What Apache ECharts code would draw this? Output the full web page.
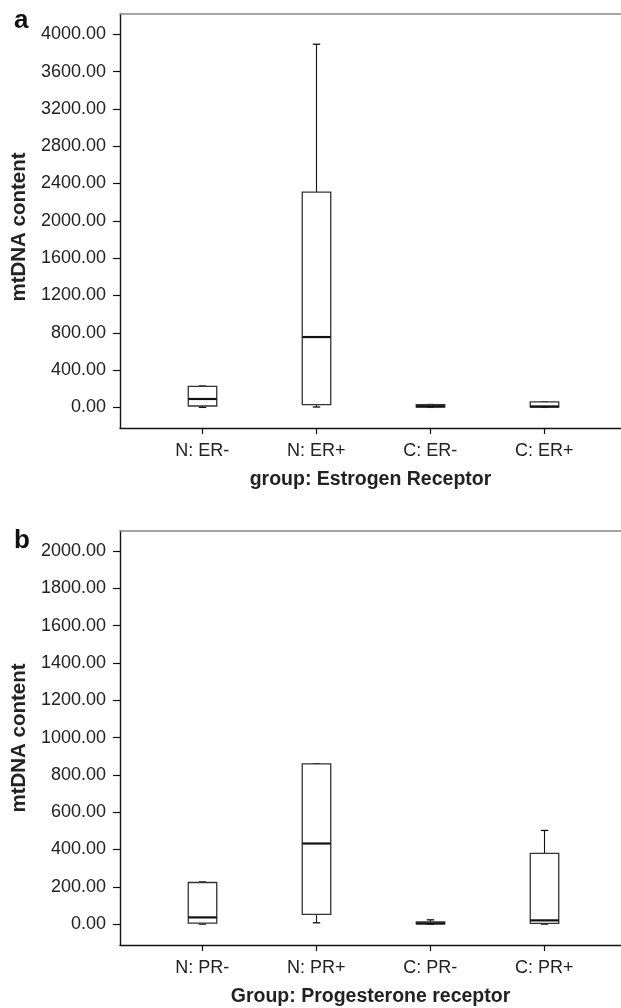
<!DOCTYPE html>
<html><head><meta charset="utf-8">
<script src="https://cdn.jsdelivr.net/npm/echarts@6/dist/echarts.min.js"></script>
<style>html,body{margin:0;padding:0;background:#fff}#c{width:621px;height:1008px}</style>
</head><body><div id="c"></div>
<script>
// Panel a: Estrogen receptor groups
const erCategories = ['N: ER-', 'N: ER+', 'C: ER-', 'C: ER+'];
// each row: [min, Q1, median, Q3, max]
const erBoxes = [
  [0, 15, 90, 225, 229],
  [4, 29, 754, 2307, 3893],
  [0, 3, 12, 28, 31],
  [0, 4, 10, 58, 58]
];
const erTicks = [0, 400, 800, 1200, 1600, 2000, 2400, 2800, 3200, 3600, 4000];

// Panel b: Progesterone receptor groups
const prCategories = ['N: PR-', 'N: PR+', 'C: PR-', 'C: PR+'];
const prBoxes = [
  [0, 5, 36, 223, 226],
  [7, 52, 432, 859, 860],
  [0, 1, 4, 12, 23],
  [0, 4, 20, 379, 502]
];
const prTicks = [0, 200, 400, 600, 800, 1000, 1200, 1400, 1600, 1800, 2000];

const FONT = "'Liberation Sans', Arial, Helvetica, sans-serif";
const XMIN = 0.278, XMAX = 4.673;

function renderBox(params, api) {
  const x = api.value(0);
  const lo = api.coord([x, api.value(1)]);
  const q1 = api.coord([x, api.value(2)]);
  const med = api.coord([x, api.value(3)]);
  const q3 = api.coord([x, api.value(4)]);
  const hi = api.coord([x, api.value(5)]);
  const unit = api.size([1, 0])[0];
  const bw = unit * 0.25, cw = unit * 0.065;
  const cx = Math.round(lo[0]) + 0.5;
  const line = (x1, y1, x2, y2, w) => ({type: 'line', shape: {x1, y1, x2, y2}, style: {stroke: '#111', lineWidth: w}});
  return {type: 'group', children: [
    line(cx, hi[1], cx, q3[1], 1.1),
    line(cx, lo[1], cx, q1[1], 1.1),
    line(cx - cw / 2, hi[1], cx + cw / 2, hi[1], 1.3),
    line(cx - cw / 2, lo[1], cx + cw / 2, lo[1], 1.3),
    {type: 'rect', shape: {x: cx - bw / 2, y: q3[1], width: bw, height: q1[1] - q3[1]},
     style: {fill: '#fff', stroke: '#333', lineWidth: 1.3}},
    line(cx - bw / 2, med[1], cx + bw / 2, med[1], 2.2)
  ]};
}

function xAxisFor(idx, cats, name) {
  return {
    type: 'value', gridIndex: idx, min: XMIN, max: XMAX, position: 'bottom',
    splitLine: {show: false},
    axisLine: {show: true, onZero: false, lineStyle: {color: '#111', width: 1.4}},
    axisTick: {show: true, customValues: [1, 2, 3, 4], length: 6, lineStyle: {color: '#111', width: 1.2}},
    axisLabel: {customValues: [1, 2, 3, 4], formatter: v => cats[Math.round(v) - 1],
      color: '#222', fontSize: 18, fontFamily: FONT, margin: 14},
    name: name, nameLocation: 'middle', nameGap: 42,
    nameTextStyle: {fontWeight: 'bold', fontSize: 19.5, color: '#222', fontFamily: FONT}
  };
}
function topFrame(idx) {
  return {
    type: 'value', gridIndex: idx, min: XMIN, max: XMAX, position: 'top',
    splitLine: {show: false}, axisTick: {show: false}, axisLabel: {show: false},
    axisLine: {show: true, onZero: false, lineStyle: {color: '#888', width: 1.6}}
  };
}
function yAxisFor(idx, min, max, ticks, pad) {
  return {
    type: 'value', gridIndex: idx, min: min, max: max,
    splitLine: {show: false},
    axisLine: {show: true, onZero: false, lineStyle: {color: '#111', width: 1.4}},
    axisTick: {show: true, customValues: ticks, length: 7, lineStyle: {color: '#111', width: 1.2}},
    axisLabel: {customValues: ticks, formatter: v => v.toFixed(2),
      color: '#222', fontSize: 18, fontFamily: FONT, margin: 14},
    name: 'mtDNA content', nameLocation: 'middle', nameGap: 90,
    nameTextStyle: {fontWeight: 'bold', fontSize: 20.5, color: '#222', fontFamily: FONT, padding: pad}
  };
}

const chart = echarts.init(document.getElementById('c'), null, {renderer: 'canvas'});
chart.setOption({
  backgroundColor: '#fff',
  animation: false,
  title: [
    {text: 'a', left: 9, top: 3, textStyle: {fontSize: 26, fontWeight: 'bold', color: '#111', fontFamily: FONT}},
    {text: 'b', left: 9, top: 523, textStyle: {fontSize: 26, fontWeight: 'bold', color: '#111', fontFamily: FONT}}
  ],
  grid: [
    {left: 120, right: 0, top: 14, height: 414},
    {left: 120, right: 0, top: 531, height: 414}
  ],
  xAxis: [
    xAxisFor(0, erCategories, 'group: Estrogen Receptor'),
    xAxisFor(1, prCategories, 'Group: Progesterone receptor'),
    topFrame(0),
    topFrame(1)
  ],
  yAxis: [
    yAxisFor(0, -221, 4217, erTicks, [0, 12, 0, 0]),
    yAxisFor(1, -112, 2107, prTicks, [0, 0, 0, 0])
  ],
  series: [
    {type: 'custom', xAxisIndex: 0, yAxisIndex: 0, renderItem: renderBox,
     dimensions: ['x', 'min', 'q1', 'median', 'q3', 'max'],
     encode: {x: 0, y: [1, 2, 3, 4, 5]},
     data: erBoxes.map((b, i) => [i + 1].concat(b))},
    {type: 'custom', xAxisIndex: 1, yAxisIndex: 1, renderItem: renderBox,
     dimensions: ['x', 'min', 'q1', 'median', 'q3', 'max'],
     encode: {x: 0, y: [1, 2, 3, 4, 5]},
     data: prBoxes.map((b, i) => [i + 1].concat(b))}
  ]
});
</script>
</body></html>
